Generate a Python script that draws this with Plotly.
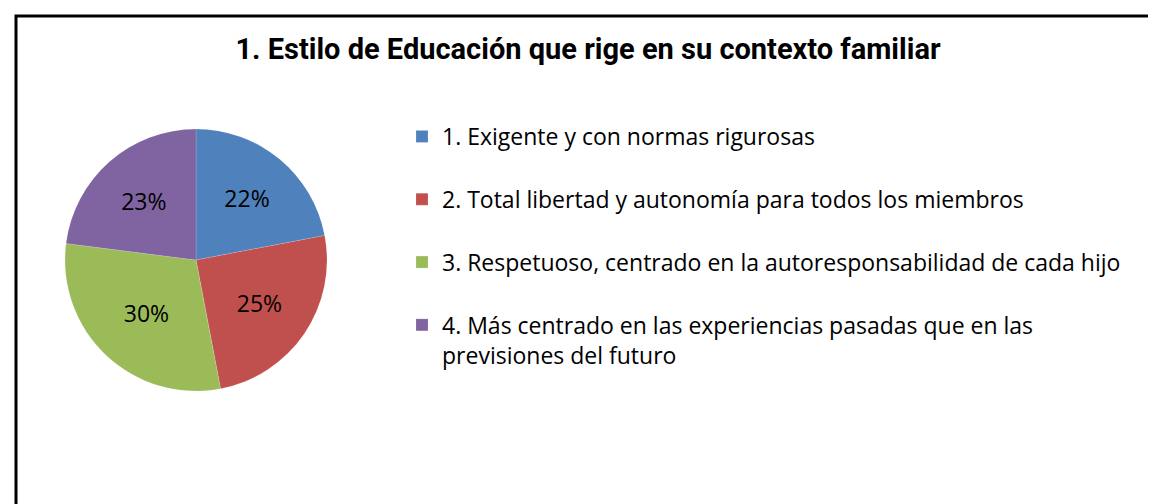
import plotly.graph_objects as go

W, H = 1156, 504

categories = [
    "1. Exigente y con normas rigurosas",
    "2. Total libertad y autonomía para todos los miembros",
    "3. Respetuoso, centrado en la autoresponsabilidad de cada hijo",
    "4. Más centrado en las experiencias pasadas que en las<br>previsiones del futuro",
]
values = [22, 25, 30, 23]
colors = ["#4F81BD", "#C0504D", "#9BBB59", "#8064A2"]
title_text = "1. Estilo de Educación que rige en su contexto familiar"

# extra blank line after items 1-3 to reproduce the legend spacing
legend_labels = [c + "<br> " for c in categories[:3]] + [categories[3]]

FONT = "Roboto"
LEG_FONT = "Open Sans"

fig = go.Figure()
fig.add_trace(go.Pie(
    labels=legend_labels,
    values=values,
    sort=False,
    direction="clockwise",
    rotation=0,
    marker=dict(colors=colors, line=dict(color="rgba(255,255,255,0.3)", width=0.5)),
    textinfo="percent",
    texttemplate="%{percent:.0%}",
    textposition="inside",
    insidetextorientation="horizontal",
    textfont=dict(family=LEG_FONT, size=23, color="black"),
    domain=dict(x=[(188 - 131) / W, (188 + 131) / W], y=[(252 - 131) / H, (252 + 131) / H]),
    hoverinfo="label+percent",
))

fig.update_layout(
    width=W, height=H,
    margin=dict(l=0, r=0, t=0, b=0),
    paper_bgcolor="white",
    plot_bgcolor="white",
    font=dict(family=FONT, color="black"),
    title=dict(text="<b>" + title_text + "</b>", x=580 / W, xanchor="center",
               y=1 - 41 / H, yanchor="middle", font=dict(family=FONT, size=29, color="black")),
    showlegend=True,
    legend=dict(x=394 / W, xanchor="left", y=1 - 107 / H, yanchor="top",
                valign="top", font=dict(family=LEG_FONT, size=23, color="black"),
                bgcolor="rgba(0,0,0,0)", itemwidth=30),
    shapes=[dict(type="rect", xref="paper", yref="paper",
                 x0=8 / W, x1=1153 / W, y0=-0.2, y1=1 - 8 / H,
                 line=dict(color="black", width=3), fillcolor="rgba(0,0,0,0)", layer="above")],
)

fig.write_html("out.html")
